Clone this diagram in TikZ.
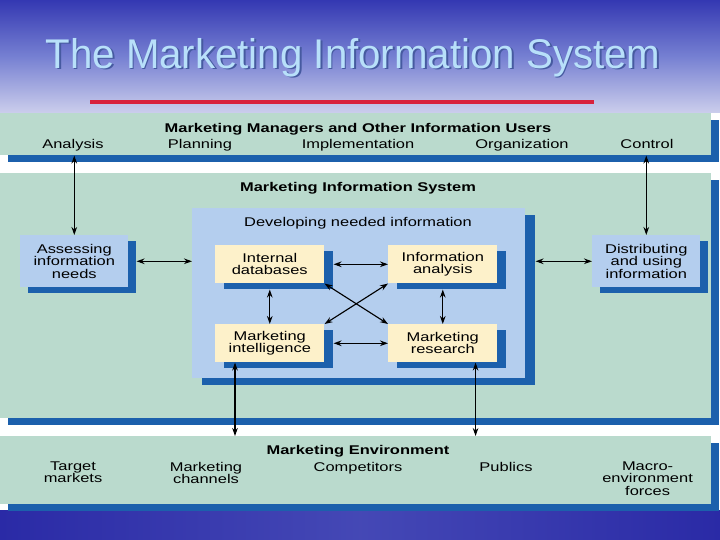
\documentclass[tikz,border=0pt]{standalone}
\usepackage{fontspec}
\setmainfont{Liberation Sans}[FakeStretch=1.3]
\newfontfamily\titlefont{Liberation Sans}[FakeStretch=0.97]
\usepackage{tikz}
\usetikzlibrary{arrows.meta, positioning, calc, shadows}
\definecolor{MISGreen}{RGB}{186,218,205}
\definecolor{MISBlue}{RGB}{28,96,172}
\definecolor{MISSky}{RGB}{180,206,238}
\definecolor{MISCream}{RGB}{253,241,202}
\definecolor{MISRed}{RGB}{216,32,60}
\definecolor{SlideTop}{RGB}{52,56,178}
\definecolor{SlideMid}{RGB}{118,128,210}
\definecolor{SlideHaze}{RGB}{204,206,236}
\definecolor{SlideDeep}{RGB}{42,42,166}
\definecolor{TitleFill}{RGB}{184,224,250}
\definecolor{TitleShade}{RGB}{70,90,160}

\begin{document}
\begin{tikzpicture}[font=\fontsize{9}{8.8}\selectfont,
	band/.style={rectangle, fill=MISGreen, inner sep=0pt, anchor=north west,
		drop shadow={fill=MISBlue, opacity=1, shadow xshift=0.2cm, shadow yshift=-0.175cm}},
	devbox/.style={rectangle, fill=MISSky, inner sep=0pt, anchor=north west,
		drop shadow={fill=MISBlue, opacity=1, shadow xshift=0.25cm, shadow yshift=-0.175cm}},
	sky/.style={rectangle, fill=MISSky, inner sep=0pt, anchor=north west, align=center,
		minimum width=2.7cm, minimum height=1.3cm,
		drop shadow={fill=MISBlue, opacity=1, shadow xshift=0.2cm, shadow yshift=-0.15cm}},
	cream/.style={rectangle, fill=MISCream, inner sep=0pt, anchor=north west, align=center,
		minimum width=2.725cm, minimum height=0.95cm,
		drop shadow={fill=MISBlue, opacity=1, shadow xshift=0.225cm, shadow yshift=-0.15cm}},
	hd/.style={font=\fontsize{9}{8.8}\selectfont\bfseries, anchor=base},
	lbl/.style={anchor=base},
	envlbl/.style={align=center, anchor=north, inner sep=0pt},
	fl/.style={{Stealth[length=2mm, width=1.4mm]}-{Stealth[length=2mm, width=1.4mm]}, line width=0.8pt}]
	\useasboundingbox (0,0) rectangle (18,-13.5);
	% slide background
	\shade[top color=SlideTop, bottom color=SlideHaze, middle color=SlideMid] (0,0) rectangle (18,-2.825);
	\fill[white] (0,-2.825) rectangle (18,-12.75);
	\shade[left color=SlideDeep, right color=SlideDeep, middle color=SlideMid!35!SlideDeep] (0,-12.75) rectangle (18,-13.5);
	\node[font=\titlefont\fontsize{29.5}{30}\selectfont, text=TitleShade, anchor=base] (titleshadow) at (8.87,-1.745) {The Marketing Information System};
	\node[font=\titlefont\fontsize{29.5}{30}\selectfont, text=TitleFill, anchor=base] (title) at (8.825,-1.7) {The Marketing Information System};
	\draw[MISRed, line width=2.8pt] (2.25,-2.55) -- (14.85,-2.55);
	% bands
	\node[band, minimum width=17.775cm, minimum height=1.05cm] (users) at (0,-2.825) {};
	\node[band, minimum width=17.775cm, minimum height=6.125cm] (mis) at (0,-4.325) {};
	\node[band, minimum width=17.775cm, minimum height=1.7cm] (env) at (0,-10.9) {};
	\node[hd] (usershead) at (8.95,-3.3) {Marketing Managers and Other Information Users};
	\node[lbl] (analysis) at (1.825,-3.7) {Analysis};
	\node[lbl] (planning) at (5.0,-3.7) {Planning};
	\node[lbl] (implement) at (8.95,-3.7) {Implementation};
	\node[lbl] (organize) at (13.05,-3.7) {Organization};
	\node[lbl] (control) at (16.175,-3.7) {Control};
	\node[hd] (mishead) at (8.95,-4.775) {Marketing Information System};
	% developing needed information
	\node[devbox, minimum width=8.325cm, minimum height=4.25cm] (dev) at (4.8,-5.2) {};
	\node[lbl] (devhead) at (8.95,-5.65) {Developing needed information};
	\node[cream] (intdb) at (5.375,-6.125) {Internal\\databases};
	\node[cream] (infan) at (9.7,-6.125) {Information\\analysis};
	\node[cream] (mktint) at (5.375,-8.1) {Marketing\\intelligence};
	\node[cream] (mktres) at (9.7,-8.1) {Marketing\\research};
	\node[sky] (assess) at (0.5,-5.875) {Assessing\\information\\needs};
	\node[sky] (distr) at (14.8,-5.875) {Distributing\\and using\\information};
	% environment
	\node[hd] (envhead) at (8.95,-11.36) {Marketing Environment};
	\node[envlbl] (targets) at (1.825,-11.54) {Target\\markets};
	\node[envlbl] (channels) at (5.15,-11.54) {Marketing\\channels};
	\node[envlbl] (competitors) at (8.95,-11.54) {Competitors};
	\node[envlbl] (publics) at (12.65,-11.54) {Publics};
	\node[envlbl] (macro) at (16.19,-11.54) {Macro-\\environment\\forces};
	% flows
	\coordinate (mifoot) at ($(mktint.south west)+(0.5,0)$);
	\coordinate (mrfoot) at ($(mktres.south east)+(-0.55,0)$);
	\draw[fl] (assess.north) -- (assess.north |- users.south);
	\draw[fl] (distr.north) -- (distr.north |- users.south);
	\draw[fl] ($(assess.east)+(0.2,0)$) -- (assess.east -| dev.west);
	\draw[fl] ($(distr.west -| dev.east)+(0.25,0)$) -- (distr.west);
	\draw[fl] ($(intdb.east)+(0.225,0)$) -- (infan.west);
	\draw[fl] ($(mktint.east)+(0.225,0)$) -- (mktres.west);
	\draw[fl] ($(intdb.south)+(0,-0.15)$) -- (mktint.north);
	\draw[fl] ($(infan.south)+(0,-0.15)$) -- (mktres.north);
	\draw[fl] (intdb.south east) -- (mktres.north west);
	\draw[fl] (infan.south west) -- (mktint.north east);
	\draw[fl] (mifoot) -- (mifoot |- env.north);
	\draw[fl] (mrfoot) -- (mrfoot |- env.north);
\end{tikzpicture}
\end{document}
